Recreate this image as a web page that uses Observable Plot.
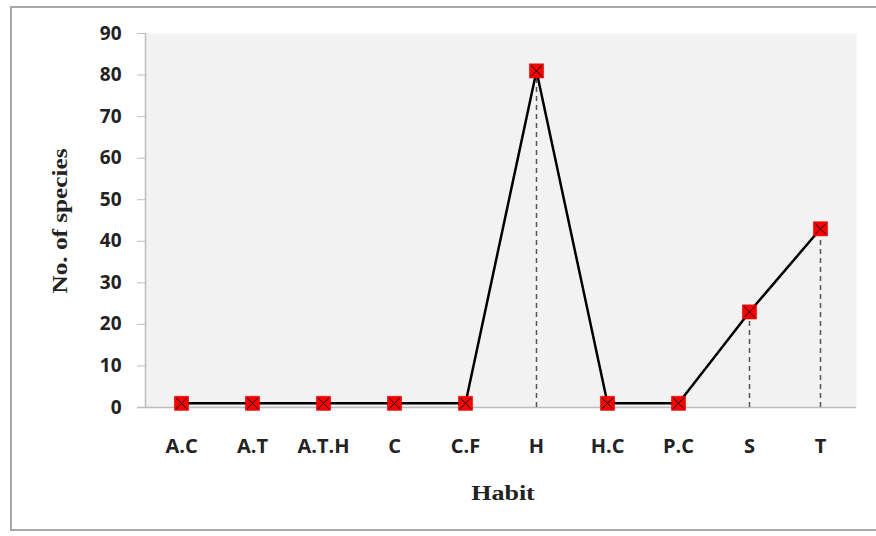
<!DOCTYPE html>
<html>
<head>
<meta charset="utf-8">
<script src="https://cdn.jsdelivr.net/npm/d3@7"></script>
<script src="https://cdn.jsdelivr.net/npm/@observablehq/plot@0.6"></script>
<style>
  body { margin: 0; background: #fff; }
  #wrap { position: relative; width: 876px; height: 536px; overflow: hidden; }
  #border { position: absolute; left: 10px; top: 6px; width: 880px; height: 525px; border: 2px solid #a8a8a8; box-sizing: border-box; }
  #chart { position: absolute; left: 0; top: 0; }
  .ttl { position: absolute; font-family: "Liberation Serif", "Times New Roman", serif; font-weight: bold; font-size: 20px; color: #222; white-space: nowrap; }
  #ylab { left: 60px; top: 221px; transform: translate(-50%, -50%) rotate(-90deg) scaleX(1.26); }
  #xlab { left: 503px; top: 493px; transform: translate(-50%, -50%) scaleX(1.3); }
</style>
</head>
<body>
<div id="wrap">
  <div id="border"></div>
  <div id="chart"></div>
  <div class="ttl" id="ylab">No. of species</div>
  <div class="ttl" id="xlab">Habit</div>
</div>
<script>
const habits = ["A.C", "A.T", "A.T.H", "C", "C.F", "H", "H.C", "P.C", "S", "T"];
const species = [1, 1, 1, 1, 1, 81, 1, 1, 23, 43];
const yTicks = [0, 10, 20, 30, 40, 50, 60, 70, 80, 90];

const data = habits.map((h, i) => ({habit: h, n: species[i]}));

const chart = Plot.plot({
  width: 876,
  height: 536,
  marginLeft: 145,
  marginRight: 20,
  marginTop: 33,
  marginBottom: 129,
  style: {fontFamily: "'Open Sans', sans-serif", fontWeight: "bold", fontSize: "19px", color: "#222", background: "transparent"},
  x: {type: "point", domain: habits, padding: 0.5},
  y: {domain: [0, 90]},
  marks: [
    Plot.frame({fill: "#f2f2f2", stroke: null}),
    Plot.ruleY([0], {stroke: "#bdbdbd", strokeWidth: 1.5, insetLeft: -8}),
    Plot.frame({anchor: "left", stroke: "#bdbdbd", strokeWidth: 1.5}),
    Plot.axisY({ticks: yTicks, tickSize: 8, tickPadding: 16, stroke: "#bdbdbd", label: null, fontWeight: "bold", fontSize: "19px"}),
    Plot.axisX({tickSize: 0, tickPadding: 31, label: null, fontWeight: "bold", fontSize: "20px"}),
    Plot.ruleX(data, {x: "habit", y1: 0, y2: "n", stroke: "#555", strokeWidth: 1.5, strokeDasharray: "5,4"}),
    Plot.line(data, {x: "habit", y: "n", stroke: "#000", strokeWidth: 2.5}),
    Plot.dot(data, {x: "habit", y: "n", symbol: "square", r: 8, fill: "#ff0000", stroke: "#c00000", strokeWidth: 0.5}),
    Plot.dot(data, {x: "habit", y: "n", symbol: "times", r: 5, stroke: "#000", strokeWidth: 1})
  ]
});
document.getElementById("chart").appendChild(chart);
</script>
</body>
</html>
